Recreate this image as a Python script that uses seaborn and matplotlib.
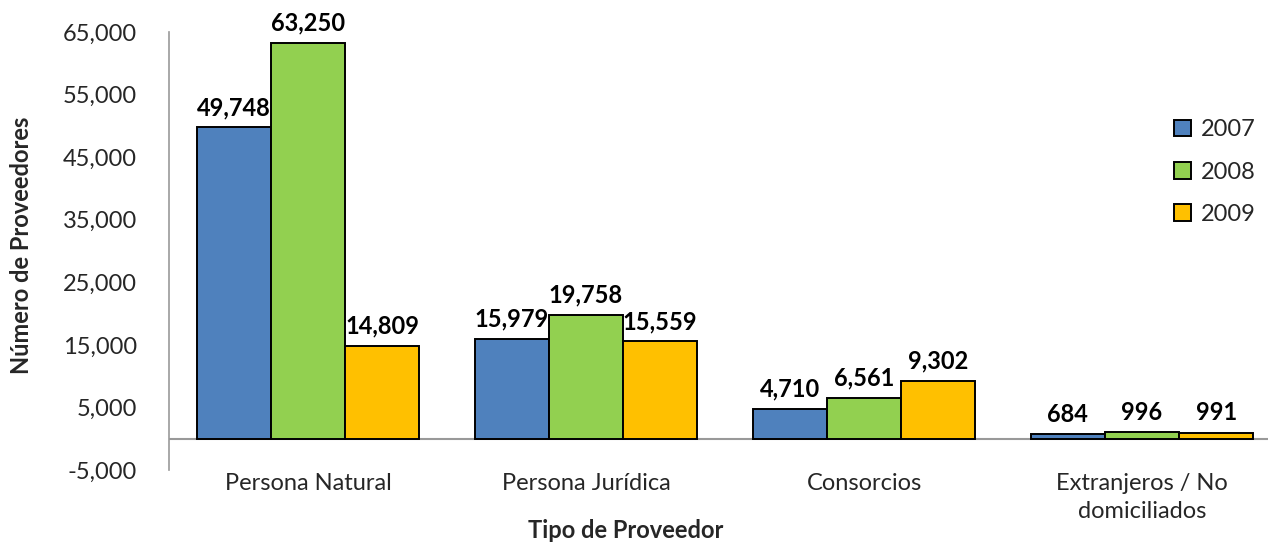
import numpy as np
import pandas as pd
import seaborn as sns
import matplotlib.pyplot as plt
from matplotlib.ticker import FuncFormatter

# Datos
tipos = ["Persona Natural", "Persona Jurídica", "Consorcios", "Extranjeros / No\ndomiciliados"]
anios = ["2007", "2008", "2009"]
v2007 = [49748, 15979, 4710, 684]
v2008 = [63250, 19758, 6561, 996]
v2009 = [14809, 15559, 9302, 991]
colores = ["#4F81BD", "#92D050", "#FFC000"]

df = pd.DataFrame({
    "tipo": tipos * 3,
    "anio": np.repeat(anios, len(tipos)),
    "n": v2007 + v2008 + v2009,
})

sns.set_theme(style="white")
plt.rcParams["font.family"] = ["Lato", "DejaVu Sans"]
fs = 17

fig = plt.figure(figsize=(12.68, 5.43), dpi=100)
ax = fig.add_axes([169 / 1268, 73 / 543, 1112 / 1268, 438 / 543])

sns.barplot(data=df, x="tipo", y="n", hue="anio", palette=colores,
            saturation=1, edgecolor="black", linewidth=1.4, width=0.8, ax=ax)

for cont in ax.containers:
    ax.bar_label(cont, labels=[f"{v:,.0f}" for v in cont.datavalues],
                 padding=6, fontsize=fs, fontweight="bold", color="black")

ax.set_ylim(-5000, 65000)
ax.set_yticks(np.arange(-5000, 65001, 10000))
ax.yaxis.set_major_formatter(FuncFormatter(lambda v, p: f"{v:,.0f}"))
ax.set_xlim(-0.5, 3.5)
ax.axhline(0, color="#999999", linewidth=1.5, zorder=0)

for s in ["top", "right", "bottom"]:
    ax.spines[s].set_visible(False)
ax.spines["left"].set_color("#999999")
ax.spines["left"].set_linewidth(1.2)

ax.tick_params(axis="y", length=0, pad=23, labelsize=fs)
ax.tick_params(axis="x", length=0, pad=2, labelsize=fs)
ax.set_xticks(range(len(tipos)))
ax.set_xticklabels(tipos, linespacing=1.45)
ax.set_xlabel("")
ax.set_ylabel("")

fig.text(22 / 1268, 1 - 245 / 543, "Número de Proveedores", rotation=90,
         ha="center", va="center", fontsize=fs, fontweight="bold")
fig.text(626 / 1268, 1 - 530 / 543, "Tipo de Proveedor",
         ha="center", va="center", fontsize=fs, fontweight="bold")

leg = ax.legend(loc="upper left", bbox_to_anchor=(1165 / 1268, 1 - 110 / 543),
                bbox_transform=fig.transFigure, frameon=False, fontsize=fs,
                handlelength=0.7, handleheight=0.7, handletextpad=0.4,
                labelspacing=0.9, borderaxespad=0)

fig.savefig("out.png", dpi=100, facecolor="white")
